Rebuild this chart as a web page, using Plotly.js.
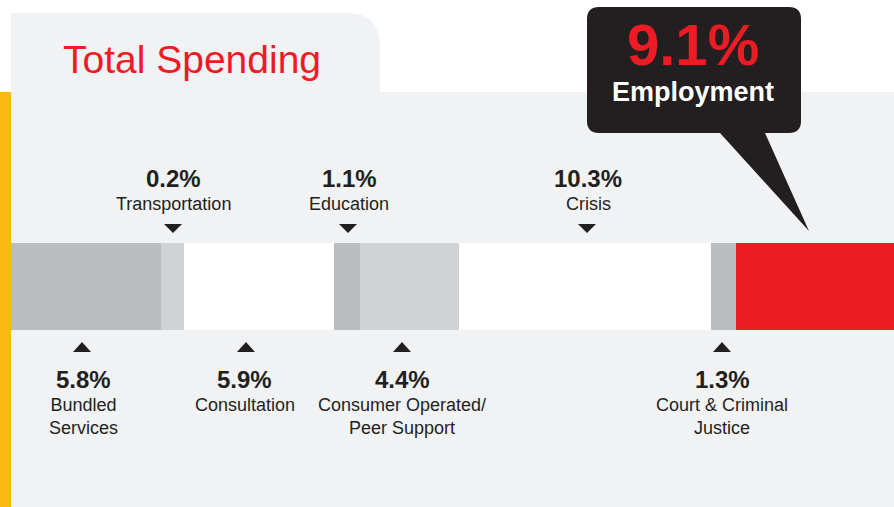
<!DOCTYPE html>
<html>
<head>
<meta charset="utf-8">
<script src="https://cdn.plot.ly/plotly-3.0.1.min.js"></script>
<style>
html,body{margin:0;padding:0;background:#fff;}
#chart{width:894px;height:507px;}
</style>
</head>
<body>
<div id="chart"></div>
<script>
// ---- data ----
const categories = ['Bundled Services','Transportation','Consultation','Education','Consumer Operated/Peer Support','Crisis','Court & Criminal Justice','Employment'];
const percents = [5.8, 0.2, 5.9, 1.1, 4.4, 10.3, 1.3, 9.1];
// widths of each segment as drawn in the picture (same units as the 5.8% segment)
const barWidths = [5.8, 0.89, 5.8, 1.0, 3.83, 9.74, 0.97, 9.1];
const displayNames = ['Bundled<br>Services','Transportation','Consultation','Education','Consumer Operated/<br>Peer Support','Crisis','Court & Criminal<br>Justice','Employment'];

// ---- styles ----
const segColors = ['#bbbcbf','#d1d2d4','#ffffff','#bbbcbf','#d1d2d4','#ffffff','#bbbcbf','#ed1c24'];
const labelSide = ['below','above','below','above','below','above','below','callout'];
const labelX = [83, 173, 245, 349, 402, 588, 722, 693];
const triX   = [82, 173, 246, 348, 402, 587, 722, null];

const W = 894, H = 507;
const px = x => x / W;
const py = y => 1 - y / H;
const P = (x, y) => px(x).toFixed(5) + ',' + py(y).toFixed(5);

const dark = '#231f20';
const red = '#ed1c24';
const font = '"Liberation Sans", Arial, Helvetica, sans-serif';

const traces = categories.map((c, i) => ({
  type: 'bar',
  orientation: 'h',
  y: ['total'],
  x: [barWidths[i]],
  name: c,
  marker: {color: segColors[i], line: {width: 0}},
  hoverinfo: 'skip',
  showlegend: false
}));

const shapes = [];
const annotations = [];

// background panel, tab, yellow stripe
shapes.push({type:'path', xref:'paper', yref:'paper', layer:'below',
  path:`M ${P(11,92)} L ${P(894,92)} L ${P(894,507)} L ${P(11,507)} Z`,
  fillcolor:'#f1f2f4', line:{width:0}});
shapes.push({type:'path', xref:'paper', yref:'paper', layer:'below',
  path:`M ${P(11,93)} L ${P(11,13)} L ${P(347,13)} Q ${P(380,13)} ${P(380,46)} L ${P(380,93)} Z`,
  fillcolor:'#f1f2f4', line:{width:0}});
shapes.push({type:'path', xref:'paper', yref:'paper', layer:'below',
  path:`M ${P(0,92)} L ${P(11,92)} L ${P(11,507)} L ${P(0,507)} Z`,
  fillcolor:'#fdb913', line:{width:0}});

annotations.push({xref:'paper', yref:'paper', x:px(192), y:py(59), xanchor:'center', yanchor:'middle',
  text:'Total Spending', showarrow:false, font:{family:font, size:39, color:red}});

// labels & triangles
categories.forEach((c, i) => {
  const side = labelSide[i];
  const pct = percents[i].toFixed(1) + '%';
  if (side === 'above') {
    annotations.push({xref:'paper', yref:'paper', x:px(labelX[i]), y:py(178), xanchor:'center', yanchor:'middle',
      text:'<b>'+pct+'</b>', showarrow:false, font:{family:font, size:24, color:dark}});
    annotations.push({xref:'paper', yref:'paper', x:px(labelX[i]), y:py(204), xanchor:'center', yanchor:'middle',
      text:displayNames[i], showarrow:false, font:{family:font, size:18, color:dark}});
    const t = triX[i];
    shapes.push({type:'path', xref:'paper', yref:'paper',
      path:`M ${P(t-9,224)} L ${P(t+9,224)} L ${P(t,233)} Z`, fillcolor:dark, line:{width:0}});
  } else if (side === 'below') {
    annotations.push({xref:'paper', yref:'paper', x:px(labelX[i]), y:py(379), xanchor:'center', yanchor:'middle',
      text:'<b>'+pct+'</b>', showarrow:false, font:{family:font, size:24, color:dark}});
    annotations.push({xref:'paper', yref:'paper', x:px(labelX[i]), y:py(393), xanchor:'center', yanchor:'top',
      text:displayNames[i], showarrow:false, font:{family:font, size:18, color:dark}});
    const t = triX[i];
    shapes.push({type:'path', xref:'paper', yref:'paper',
      path:`M ${P(t-9,352)} L ${P(t+9,352)} L ${P(t,342)} Z`, fillcolor:dark, line:{width:0}});
  } else {
    // callout bubble
    shapes.push({type:'path', xref:'paper', yref:'paper', layer:'above',
      path:`M ${P(599,7)} L ${P(789,7)} Q ${P(801,7)} ${P(801,19)} L ${P(801,121)} Q ${P(801,133)} ${P(789,133)} L ${P(765,133)} L ${P(809,231)} L ${P(720,133)} L ${P(599,133)} Q ${P(587,133)} ${P(587,121)} L ${P(587,19)} Q ${P(587,7)} ${P(599,7)} Z`,
      fillcolor:dark, line:{width:0}});
    annotations.push({xref:'paper', yref:'paper', x:px(labelX[i]), y:py(44), xanchor:'center', yanchor:'middle',
      text:'<b>'+pct+'</b>', showarrow:false, font:{family:font, size:58, color:red}});
    annotations.push({xref:'paper', yref:'paper', x:px(labelX[i]), y:py(92), xanchor:'center', yanchor:'middle',
      text:'<b>'+displayNames[i]+'</b>', showarrow:false, font:{family:font, size:27, color:'#ffffff'}});
  }
});

const layout = {
  width: W, height: H,
  margin: {l:0, r:0, t:0, b:0, pad:0},
  paper_bgcolor: '#ffffff',
  plot_bgcolor: 'rgba(0,0,0,0)',
  barmode: 'stack',
  bargap: 0,
  showlegend: false,
  xaxis: {domain:[px(11), 1], range:[0, 883*5.8/150], visible:false, fixedrange:true},
  yaxis: {domain:[py(330), py(243)], range:[-0.5, 0.5], visible:false, fixedrange:true},
  shapes: shapes,
  annotations: annotations
};

Plotly.newPlot('chart', traces, layout, {displayModeBar:false, staticPlot:true});
</script>
</body>
</html>
